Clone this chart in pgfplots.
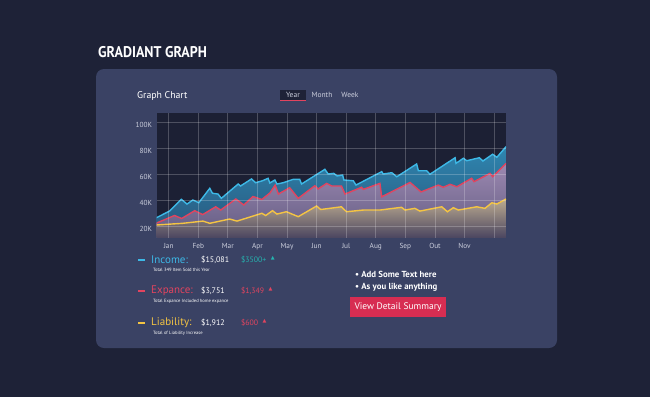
\documentclass[border=0pt]{standalone}
\usepackage{fontspec}
\setmainfont{PT Sans}
\newfontfamily\symfont{DejaVu Sans}
\usepackage{pgfplots}
\usepackage{pgfplotstable}
\pgfplotsset{compat=1.18}
\definecolor{bg}{HTML}{1E2237}
\definecolor{card}{HTML}{3A4264}
\definecolor{plotbg}{HTML}{1C2034}
\definecolor{bline}{HTML}{3DB8E6}
\definecolor{rline}{HTML}{E2445F}
\definecolor{yline}{HTML}{F4C443}
\definecolor{btop}{HTML}{2F86B0}
\definecolor{bbot}{HTML}{27557A}
\definecolor{rtop}{HTML}{9C88B0}
\definecolor{rbot}{HTML}{615B82}
\definecolor{ytop}{HTML}{BCAB90}
\definecolor{ybot}{HTML}{4A4560}
\definecolor{teal}{HTML}{25B4B0}
\definecolor{btn}{HTML}{D72D52}
\definecolor{lbl}{HTML}{CDD0DE}
\newcommand{\up}{\hspace{4.5pt}\raisebox{2.8pt}{\symfont\fontsize{5}{5}\selectfont ▲}}

\pgfplotstableread{
x y
0.59 26.4
1.03 31.5
1.43 40.5
1.62 36.9
1.82 40.0
2.02 37.9
2.39 49.0
2.48 45.2
2.67 44.6
2.78 41.3
3.35 52.3
3.43 50.8
3.80 56.2
3.94 53.3
4.17 54.8
4.36 56.7
4.42 53.1
4.59 55.4
4.66 52.3
4.87 53.3
5.21 55.9
5.43 55.9
5.49 52.3
6.28 63.6
6.39 60.0
6.58 60.5
6.69 58.5
6.88 59.2
6.92 55.4
7.24 54.8
7.33 51.5
8.20 61.8
8.25 60.0
8.54 61.0
8.71 57.9
9.38 67.7
9.44 62.5
9.72 62.5
9.83 59.8
10.68 72.5
10.71 68.2
10.96 72.1
11.07 70.2
11.50 72.5
11.62 70.0
11.95 75.2
12.09 72.8
12.40 81.0
}\income

\pgfplotstableread{
x y
0.59 22.3
1.20 28.1
1.44 25.8
1.88 31.8
2.15 28.8
2.59 34.8
2.76 32.3
3.27 40.8
3.54 36.2
3.85 42.7
4.15 40.4
4.42 45.4
4.60 51.5
4.71 44.6
5.09 49.5
5.38 41.3
5.94 51.0
6.05 48.5
6.34 52.8
6.51 50.8
6.84 50.8
6.96 44.6
7.52 49.8
7.58 48.2
8.14 52.8
8.20 42.5
9.16 53.5
9.53 46.2
10.11 51.5
10.28 49.8
10.51 52.1
10.74 50.2
11.24 56.7
11.32 54.1
11.86 60.5
11.95 57.9
12.40 68.2
}\expance

\pgfplotstableread{
x y
0.59 20.8
1.48 22.1
2.16 23.8
2.39 22.1
3.06 25.4
3.31 23.8
4.15 29.8
4.28 28.1
4.51 31.8
4.66 29.2
4.98 31.0
5.38 27.2
6.00 35.4
6.14 32.7
6.84 34.8
7.01 31.0
7.58 32.3
8.14 32.3
8.87 34.4
8.99 32.3
9.32 33.6
9.49 31.5
10.23 34.8
10.42 31.0
10.62 34.1
10.79 32.3
11.41 34.8
11.69 33.6
11.92 37.9
12.09 36.9
12.40 40.8
}\liability

\begin{document}
\begin{tikzpicture}[x=1pt,y=-1pt]
\fill[bg] (0,0) rectangle (650,397);
\fill[card, rounded corners=8pt] (96,69) rectangle (557,348);

\node[anchor=west, text=white, inner sep=0] at (98,52)
  {\scalebox{0.9}[1]{\fontsize{15.5}{16}\selectfont\bfseries GRADIANT GRAPH}};

\node[anchor=west, text=white, inner sep=0] at (137,96)
  {\fontsize{9.8}{10}\selectfont Graph Chart};

\fill[bg] (280,90) rectangle (306,99.5);
\draw[rline, line width=1.5pt] (280,100.5) -- (306,100.5);
\node[text=lbl, inner sep=0] at (293,95) {\fontsize{7.5}{8}\selectfont Year};
\node[text=lbl, inner sep=0] at (322,95) {\fontsize{7.5}{8}\selectfont Month};
\node[text=lbl, inner sep=0] at (350,95) {\fontsize{7.5}{8}\selectfont Week};

\begin{axis}[
  at={(156.5pt,-113pt)}, anchor=north west,
  width=349.5pt, height=125pt, scale only axis,
  xmin=0.59, xmax=12.40, ymin=10.8, ymax=106.9,
  axis background/.style={fill=plotbg},
  axis line style={draw=none},
  axis on top,
  major tick length=0pt,
  grid=major,
  major grid style={white, opacity=0.22, line width=0.8pt},
  xtick={1,2,3,4,5,6,7,8,9,10,11,12},
  xticklabels={Jan,Feb,Mar,Apr,May,Jun,Jul,Aug,Sep,Out,Nov,},
  ytick={20,40,60,80,100},
  yticklabels={20K,40K,60K,80K,100K},
  /pgf/number format/assume math mode=true,
  tick label style={text=lbl, font=\fontsize{7.3}{8}\selectfont},
  yticklabel style={xshift=-1pt, yshift=-2.5pt},
  xticklabel style={yshift=-2pt},
]
\addplot[draw=none, top color=btop, bottom color=bbot] table {\income} \closedcycle;
\addplot[draw=none, top color=rtop, bottom color=rbot] table {\expance} \closedcycle;
\addplot[draw=none, top color=ytop, bottom color=ybot] table {\liability} \closedcycle;
\addplot[bline, line width=1.4pt, line join=miter] table {\income};
\addplot[rline, line width=1.4pt, line join=miter] table {\expance};
\addplot[yline, line width=1.4pt, line join=miter] table {\liability};
\end{axis}

% legend block
\draw[bline, line width=1.6pt] (138,260) -- (145,260);
\node[anchor=west, text=bline, inner sep=0] at (151,260) {\fontsize{11}{11}\selectfont Income:};
\node[anchor=west, text=white, inner sep=0] at (201,260) {\fontsize{8}{9}\selectfont \$15,081};
\node[anchor=west, text=teal, inner sep=0] at (241,260) {\fontsize{7.8}{9}\selectfont \$3500+\up};
\node[anchor=west, text=white, inner sep=0] at (153,270) {\fontsize{4.6}{5}\selectfont Total 349 Item Sold this Year};

\draw[rline, line width=1.6pt] (138,291) -- (145,291);
\node[anchor=west, text=rline, inner sep=0] at (151,291) {\fontsize{11}{11}\selectfont Expance:};
\node[anchor=west, text=white, inner sep=0] at (201,291) {\fontsize{8}{9}\selectfont \$3,751};
\node[anchor=west, text=rline, inner sep=0] at (241,291) {\fontsize{7.8}{9}\selectfont \$1,349\up};
\node[anchor=west, text=white, inner sep=0] at (153,301) {\fontsize{4.6}{5}\selectfont Total Expance Included home expance};

\draw[yline, line width=1.6pt] (138,323) -- (145,323);
\node[anchor=west, text=yline, inner sep=0] at (151,323) {\fontsize{11}{11}\selectfont Liability:};
\node[anchor=west, text=white, inner sep=0] at (201,323) {\fontsize{8}{9}\selectfont \$1,912};
\node[anchor=west, text=rline, inner sep=0] at (241,323) {\fontsize{7.8}{9}\selectfont \$600\up};
\node[anchor=west, text=white, inner sep=0] at (153,333) {\fontsize{4.6}{5}\selectfont Total of Liability Increase};

% right block
\node[anchor=west, text=white, inner sep=0] at (355,274) {\fontsize{8.8}{9}\selectfont\bfseries • Add Some Text here};
\node[anchor=west, text=white, inner sep=0] at (355,287) {\fontsize{8.8}{9}\selectfont\bfseries • As you like anything};
\fill[btn] (350,297) rectangle (446,317);
\node[text=white, inner sep=0] at (398,307) {\fontsize{9.5}{10}\selectfont View Detail Summary};
\end{tikzpicture}
\end{document}
